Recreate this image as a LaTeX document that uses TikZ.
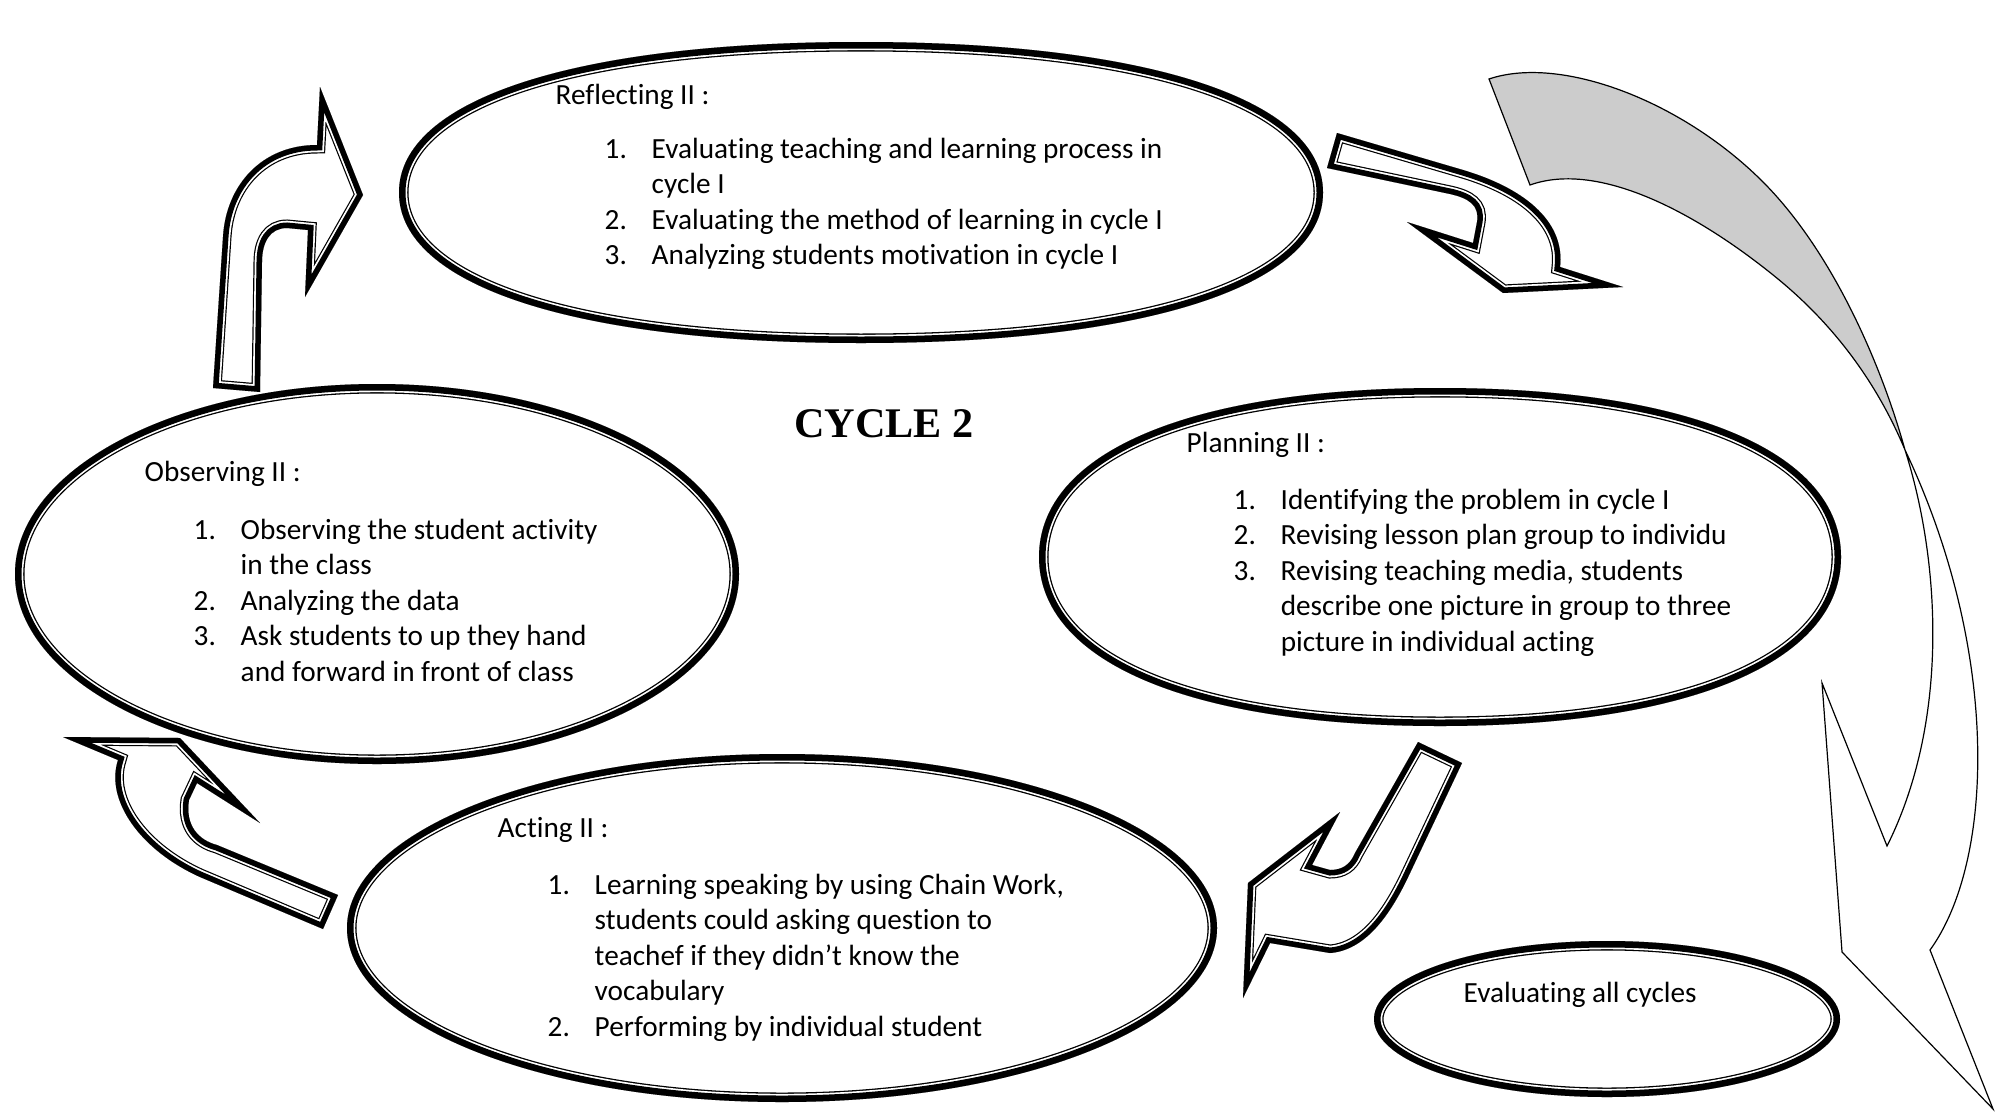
\documentclass[tikz,border=0pt]{standalone}
\usepackage{fontspec}
\setmainfont{Carlito}[Ligatures=NoCommon]
\newfontfamily\titlefont{Liberation Serif}
\usetikzlibrary{shapes.geometric}
\newcommand\bodyfont{\fontsize{8.32pt}{10.1pt}\selectfont}
\tikzset{
  arrowout/.style={line width=1.7mm, line join=miter},
  arrowgap/.style={white, line width=1.46mm, line join=miter},
  arrowin/.style={line width=1.1mm, line join=miter},
  ringout/.style={line width=1.9mm},
  ringgap/.style={white, line width=1.64mm},
  ringin/.style={line width=1.3mm},
  headtext/.style={anchor=base west, inner sep=0pt, font=\bodyfont},
  itemtext/.style={anchor=base west, inner sep=0pt, font=\bodyfont},
  oval/.style={ellipse, inner sep=0pt},
  bigarrow/.style={line width=0.12mm, line join=miter},
  titletext/.style={anchor=base, inner sep=0pt, font={\titlefont\bfseries\fontsize{12pt}{14pt}\selectfont}},
}
\newcommand\dblpath[1]{\fill[white] #1;
  \begin{scope}\clip #1; \draw[arrowout] #1; \draw[arrowgap] #1; \draw[arrowin] #1;\end{scope}}
\newcommand\dblring[1]{\fill[white] #1;
  \begin{scope}\clip #1; \draw[ringout] #1; \draw[ringgap] #1; \draw[ringin] #1;\end{scope}}
\newenvironment{steplist}{\begin{tabular}[t]{@{}p{0.47cm}@{}l@{}}}{\end{tabular}}
\begin{document}
\begin{tikzpicture}[x=0.01cm,y=-0.01cm]
\useasboundingbox (0,0) rectangle (2004,1112);
\fill[white] (0,0) rectangle (2004,1112);

% big twisted arrow on the right
\fill[black!20] (1489,79) .. controls (1560,55) and (1680,100) .. (1761,180)
  .. controls (1830,248) and (1880,360) .. (1905,450)
  .. controls (1880,390) and (1840,330) .. (1778,279)
  .. controls (1700,215) and (1600,160) .. (1530,185) -- cycle;
\draw[bigarrow] (1489,79) .. controls (1560,55) and (1680,100) .. (1761,180)
  .. controls (1830,248) and (1880,360) .. (1905,450)
  .. controls (1940,560) and (1950,720) .. (1887,846)
  -- (1822,683) -- (1842,952) -- (1993,1109) -- (1930,950)
  .. controls (1995,860) and (2000,650) .. (1905,450)
  .. controls (1880,390) and (1840,330) .. (1778,279)
  .. controls (1700,215) and (1600,160) .. (1530,185) -- cycle;

% ellipses
\node[oval, minimum width=9.24cm, minimum height=3.01cm] (refl) at (861,192.5) {};
\node[oval, minimum width=7.24cm, minimum height=3.8cm] (obs) at (377,574) {};
\node[oval, minimum width=8.02cm, minimum height=3.38cm] (plan) at (1440,557) {};
\node[oval, minimum width=8.7cm, minimum height=3.48cm] (act) at (782,928) {};
\node[oval, minimum width=4.66cm, minimum height=1.56cm] (evalall) at (1607,1019) {};
\begin{scope}[shift={(refl.center)}]
\dblring{(462,0) .. controls (462,93) and (286,150.5) .. (0,150.5) .. controls (-286,150.5) and (-462,93) .. (-462,0) .. controls (-462,-93) and (-286,-150.5) .. (0,-150.5) .. controls (286,-150.5) and (462,-93) .. (462,0) -- cycle}
\end{scope}
\begin{scope}[shift={(plan.center)}]
\dblring{(401,0) .. controls (401,105) and (249,169) .. (0,169) .. controls (-249,169) and (-401,105) .. (-401,0) .. controls (-401,-105) and (-249,-169) .. (0,-169) .. controls (249,-169) and (401,-105) .. (401,0) -- cycle}
\end{scope}
\dblring{(obs.center) ellipse (362 and 190)}
\dblring{(act.center) ellipse (435 and 174)}
\dblring{(evalall.center) ellipse (233 and 78)}

% block arrows
\dblpath{(213,388) -- (223,237) .. controls (226,185) and (262,145) .. (317,145) -- (320,87) -- (363,195) -- (305,297) -- (308,230) -- (287,228) .. controls (270,228) and (262,242) .. (262,262) -- (260,392) -- cycle}
\dblpath{(1337,133) -- (1463,170) .. controls (1530,190) and (1565,225) .. (1560,267) -- (1623,287) -- (1503,293) -- (1407,222) -- (1473,243) -- (1477,222) .. controls (1480,205) and (1468,198) .. (1450,194) -- (1327,168) -- cycle}
\dblpath{(1418,742) -- (1462,763) -- (1410,873) .. controls (1395,905) and (1370,950) .. (1330,953) -- (1270,943) -- (1243,998) -- (1248,883) -- (1340,812) -- (1312,865) -- (1330,870) .. controls (1342,870) and (1350,865) .. (1355,853) -- cycle}
\dblpath{(338,895) -- (323,929) -- (200,877) .. controls (140,850) and (105,800) .. (118,760) -- (63,737) -- (180,738) -- (260,823) -- (197,783) -- (189,800) .. controls (185,825) and (198,840) .. (217,845) -- cycle}

% texts
\node[titletext] (title) at (884,437) {CYCLE 2};

\node[headtext] (reflh) at (555,104) {Reflecting II :};
\node[itemtext] (refli) at (604,158) {\begin{steplist}
1. & Evaluating teaching and learning process in\\
 & cycle I\\
2. & Evaluating the method of learning in cycle I\\
3. & Analyzing students motivation in cycle I
\end{steplist}};

\node[headtext] (obsh) at (144,481) {Observing II :};
\node[itemtext] (obsi) at (193,539) {\begin{steplist}
1. & Observing the student activity\\
 & in the class\\
2. & Analyzing the data\\
3. & Ask students to up they hand\\
 & and forward in front of class
\end{steplist}};

\node[headtext] (planh) at (1186,452) {Planning II :};
\node[itemtext] (plani) at (1233,509) {\begin{steplist}
1. & Identifying the problem in cycle I\\
2. & Revising lesson plan group to individu\\
3. & Revising teaching media, students\\
 & describe one picture in group to three\\
 & picture in individual acting
\end{steplist}};

\node[headtext] (acth) at (497,837) {Acting II :};
\node[itemtext] (acti) at (547,894) {\begin{steplist}
1. & Learning speaking by using Chain Work,\\
 & students could asking question to\\
 & teachef if they didn’t know the\\
 & vocabulary\\
2. & Performing by individual student
\end{steplist}};

\node[headtext] (evalt) at (1463,1002) {Evaluating all cycles};
\end{tikzpicture}
\end{document}
